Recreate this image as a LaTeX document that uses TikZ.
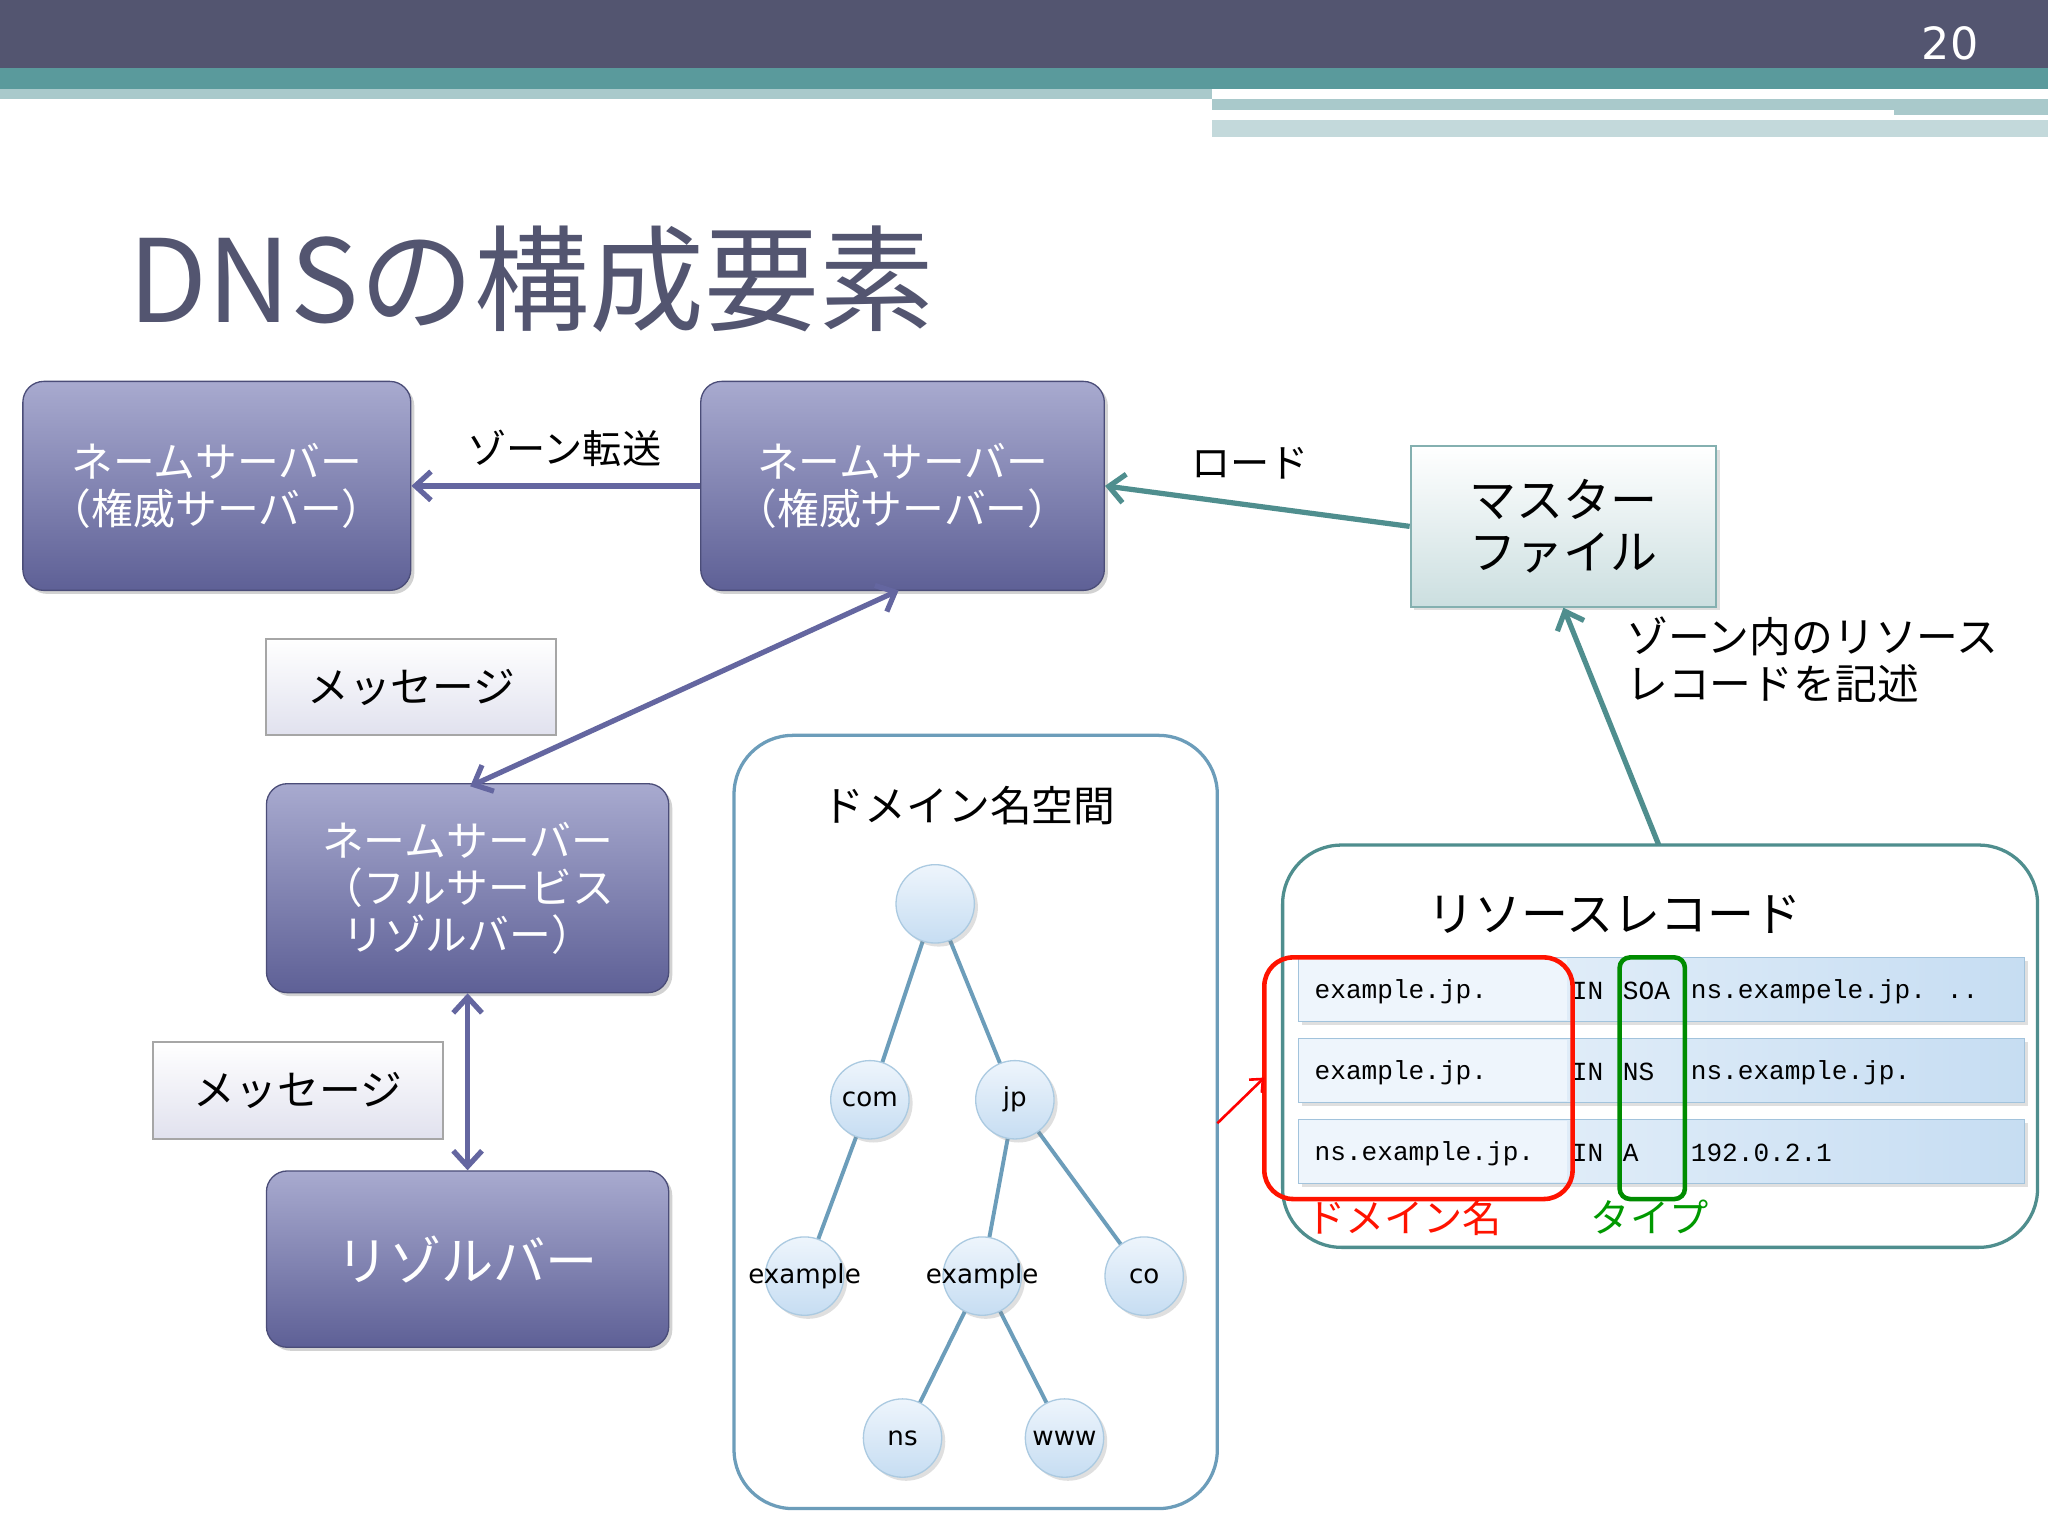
\documentclass[tikz,border=0pt]{standalone}
\usepackage{fontspec}
\setmainfont{Noto Sans CJK JP}
\newfontfamily\lat{DejaVu Sans}
\newfontfamily\mono{Liberation Mono}
\usetikzlibrary{shadows,arrows.meta}
\definecolor{dark}{HTML}{535570}
\definecolor{teal1}{HTML}{5A9A9C}
\definecolor{teal2}{HTML}{A9C9CB}
\definecolor{pl}{HTML}{A8AACF}
\definecolor{pd}{HTML}{5E6096}
\definecolor{cpa}{HTML}{6466A0}
\definecolor{cta}{HTML}{4F8E8E}
\definecolor{nsb}{HTML}{6C9DBA}
\definecolor{rlc}{HTML}{EEF5FC}
\definecolor{rdc}{HTML}{C6DDF2}
\tikzset{
 ns/.style={draw=pd!80!black,line width=1pt,rounded corners=16pt,top color=pl,bottom color=pd,drop shadow={opacity=0.35},text=white,align=center,font=\fontsize{32}{36}\selectfont},
 msg/.style={draw=gray!70,line width=1.5pt,top color=white,bottom color=pl!35,font=\fontsize{32}{36}\selectfont,minimum width=222pt,minimum height=74pt},
 parr/.style={cpa,line width=4pt,-{Straight Barb[length=12pt,width=22pt]}},
 parrb/.style={cpa,line width=4pt,{Straight Barb[length=12pt,width=22pt]}-{Straight Barb[length=12pt,width=22pt]}},
 tarr/.style={cta,line width=4pt,-{Straight Barb[length=12pt,width=22pt]}},
 dn/.style={circle,minimum size=60pt,inner sep=0pt,draw=rdc!70!nsb,line width=1pt,top color=rlc,bottom color=rdc,drop shadow={opacity=0.25}},
 dl/.style={font=\lat\fontsize{20}{22}\selectfont,inner sep=0pt},
 te/.style={nsb,line width=3pt},
 row/.style={draw=rdc!60!nsb,line width=1pt,left color=rlc,right color=rdc,drop shadow={opacity=0.25}},
 rt/.style={font=\mono\fontsize{20}{22}\selectfont,anchor=west},
 lab/.style={font=\fontsize{30}{34}\selectfont}
}
\begin{document}
\begin{tikzpicture}[x=1pt,y=-1pt]
\useasboundingbox[fill=white] (0,0) rectangle (1568,1176);
% header
\fill[dark] (0,0) rectangle (1568,52);
\fill[teal1] (0,52) rectangle (1568,68);
\fill[teal2] (0,68) rectangle (928,76);
\fill[teal2] (928,76) rectangle (1568,88);
\fill[teal2!70] (928,92) rectangle (1568,105);
\fill[white] (928,84) rectangle (1450,90);
\node[text=white,font=\lat\fontsize{34}{38}\selectfont] (pg) at (1493,33) {20};
\node[anchor=west,text=dark,font=\fontsize{88}{96}\selectfont] (tt) at (95,214) {DNSの構成要素};
% nodes
\node[ns,minimum width=297pt,minimum height=160pt] (ns1) at (166,372) {ネームサーバー\\（権威サーバー）};
\node[ns,minimum width=309pt,minimum height=160pt] (ns2) at (691,372) {ネームサーバー\\（権威サーバー）};
\node[ns,minimum width=308pt,minimum height=160pt] (fr) at (358,680) {ネームサーバー\\（フルサービス\\リゾルバー）};
\node[ns,minimum width=308pt,minimum height=135pt,font=\fontsize{40}{44}\selectfont] (rs) at (358,964) {リゾルバー};
\node[draw=cta!70,line width=1.5pt,top color=white,bottom color=teal2!60,minimum width=234pt,minimum height=123pt,align=center,font=\fontsize{36}{40}\selectfont,drop shadow={opacity=0.25}] (mf) at (1197,403) {マスター\\ファイル};
\node[msg] (m1) at (315,526) {メッセージ};
\node[msg] (m2) at (228,835) {メッセージ};
% arrows
\draw[parr] (ns2.west) -- (ns1.east);
\node[lab] (l1) at (432,343) {ゾーン転送};
\draw[tarr] (mf.west) -- (ns2.east);
\node[lab] (l2) at (957,355) {ロード};
\coordinate (a1) at (688,452); \coordinate (a2) at (360,602);
\draw[parrb] (a1) -- (a2);
\draw[parrb] (fr.south) -- (rs.north);
% namespace
\draw[nsb,line width=2.5pt,rounded corners=45pt] (562,563) rectangle (932,1155);
\node[font=\fontsize{32}{36}\selectfont] (nt) at (742,617) {ドメイン名空間};
\coordinate (c0) at (716,692);
\coordinate (c1) at (666,842);
\coordinate (c2) at (777,842);
\coordinate (c3) at (616,977);
\coordinate (c4) at (752,977);
\coordinate (c5) at (876,977);
\coordinate (c6) at (691,1101);
\coordinate (c7) at (815,1101);
\draw[te] (c0) -- (c1); \draw[te] (c0) -- (c2);
\draw[te] (c1) -- (c3); \draw[te] (c2) -- (c4); \draw[te] (c2) -- (c5);
\draw[te] (c4) -- (c6); \draw[te] (c4) -- (c7);
\node[dn] (r) at (c0) {};
\node[dn] (com) at (c1) {};
\node[dn] (jp) at (c2) {};
\node[dn] (ex1) at (c3) {};
\node[dn] (ex2) at (c4) {};
\node[dn] (co) at (c5) {};
\node[dn] (nsn) at (c6) {};
\node[dn] (www) at (c7) {};
\node[dl] (t1) at (com) {com};
\node[dl] (t2) at (jp) {jp};
\node[dl] (t3) at (ex1) {example};
\node[dl] (t4) at (ex2) {example};
\node[dl] (t5) at (co) {co};
\node[dl] (t6) at (nsn) {ns};
\node[dl] (t7) at (www) {www};
% resource records
\draw[cta,line width=2.5pt,rounded corners=45pt] (982,647) rectangle (1560,955);
\node[font=\fontsize{36}{40}\selectfont] (rt) at (1236,700) {リソースレコード};
\foreach \y/\a/\b/\c in {733/example.jp./SOA/ns.exampele.jp. ..,795/example.jp./NS/ns.example.jp.,857/ns.example.jp./A/192.0.2.1}{
 \fill[row] (994,\y) rectangle (1550,\y+49);
 \fill[rlc] (995,\y+1) rectangle (1200,\y+48);
 \node[rt] at (1003,\y+26) {\a};
 \node[rt] at (1200,\y+26) {IN};
 \node[rt] at (1239,\y+26) {\b};
 \node[rt] at (1291,\y+26) {\c};
}
\draw[red!85!orange,line width=3.5pt,rounded corners=22pt] (968,733) rectangle (1204,918);
\draw[green!55!black,line width=3.5pt,rounded corners=8pt] (1240,733) rectangle (1290,918);
\node[red!85!orange,lab] (dlb) at (1075,932) {ドメイン名};
\node[green!60!black,lab] (tl) at (1263,932) {タイプ};
\coordinate (ra) at (932,860); \coordinate (rb) at (968,825);
\draw[red,line width=2pt,-{Straight Barb[length=8pt,width=14pt]}] (ra) -- (rb);
\coordinate (rr) at (1270,647);
\draw[tarr] (rr) -- (mf.south);
\node[font=\fontsize{32}{36}\selectfont,anchor=north west,align=left,inner sep=0pt] (rln) at (1245,472) {ゾーン内のリソース\\レコードを記述};
\end{tikzpicture}
\end{document}
